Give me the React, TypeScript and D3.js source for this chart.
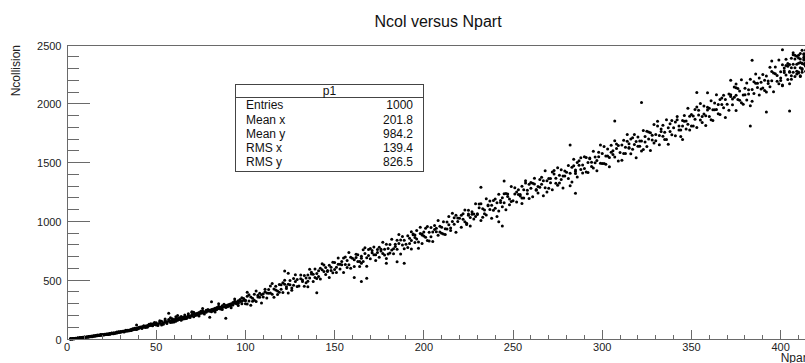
import React from "react";
import * as d3 from "d3";

const title = "Ncol versus Npart";
const xTitle = "Npart";
const yTitle = "Ncollision";
const xDomain: [number, number] = [0, 417];
const yDomain: [number, number] = [0, 2500];
const xMajorTicks = [0, 50, 100, 150, 200, 250, 300, 350, 400];
const xMinorStep = 10;
const yMajorTicks = [0, 500, 1000, 1500, 2000, 2500];
const yMinorStep = 100;
const statsName = "p1";
const statsLabels = ["Entries", "Mean x", "Mean y", "RMS x", "RMS y"];
const statsValues = ["1000", "201.8", "984.2", "139.4", "826.5"];

const peripheral: [number, number][] = [
  [2,1],[2,1],[2,2],[3,2],[3,3],[2,1],[4,3],[4,4],[3,2],[5,5],[5,6],[4,4],[6,7],[6,6],[5,4],[7,9],[7,8],[6,8],[8,10],[8,12],[7,10],[9,13],[9,11],[8,9],[10,16],[9,14],[10,13],[3,3],[4,2],[5,7],[6,5],[7,7],[8,11],[9,15],[2,2],[3,1],[4,5],[5,5],[6,9],[7,11],
  [10,15],[11,17],[11,15],[12,20],[12,18],[13,21],[13,19],[14,22],[14,25],[15,24],[15,27],[16,28],[16,25],[17,30],[17,27],[18,31],[18,34],[19,33],[19,36],[20,35],[11,18],[12,16],[13,23],[14,20],[15,26],[16,30],[17,33],[18,29],[19,31],[20,38],[12,22],[14,24],[16,27],[18,32],[19,38],
  [20,33],[21,37],[21,40],[22,38],[22,42],[23,41],[23,44],[24,43],[24,47],[25,45],[25,49],[26,47],[26,52],[27,50],[27,54],[28,52],[28,57],[29,55],[29,60],[30,58],[21,36],[22,40],[23,39],[24,45],[25,51],[26,50],[27,48],[28,55],[29,62],[30,63],[24,41],[26,44],[28,60],
  [30,60],[31,62],[31,66],[32,64],[32,69],[33,66],[33,72],[34,70],[34,74],[35,73],[35,77],[36,75],[36,82],[37,79],[37,84],[38,80],[38,87],[39,85],[39,91],[40,88],[32,60],[34,68],[36,72],[38,92],[39,80],[33,75],[35,70],[37,88],[40,98],[39,118],
  [40,92],[41,95],[41,101],[42,97],[42,104],[43,100],[43,108],[44,104],[44,111],[45,107],[45,115],[46,112],[46,119],[47,115],[47,124],[48,120],[48,128],[49,124],[49,133],[50,127],[42,90],[44,98],[46,125],[48,112],[49,140],[43,112],[45,100],[47,130],
  [50,120],[50,138],[51,128],[51,115],[52,133],[52,145],[53,130],[53,150],[54,138],[54,125],[55,142],[55,158],[56,147],[56,132],[57,150],[57,218],[57,165],[58,155],[58,140],[59,160],[59,172],[60,158],[60,145],[53,118],[55,170],[58,180],[59,142],[52,156],
  [60,165],[61,170],[61,150],[62,175],[62,160],[63,180],[63,165],[64,178],[64,192],[65,185],[65,170],[66,190],[66,205],[67,188],[67,175],[68,200],[68,215],[69,195],[69,182],[70,205],[70,225],[64,160],[66,172],[68,185],[61,190],[62,200],
  [70,198],[71,210],[71,190],[72,215],[72,200],[73,220],[73,205],[74,225],[74,210],[75,218],[75,235],[76,222],[76,240],[77,230],[77,212],[78,245],[78,228],[79,238],[79,250],[80,235],[74,195],[76,260],[70,232],[71,228],[80,185],
  [80,245],[81,250],[81,232],[82,255],[82,240],[83,262],[83,245],[84,268],[84,250],[85,260],[85,278],[86,270],[86,255],[87,282],[87,265],[88,275],[88,295],[89,285],[89,268],[90,290],[81,317],[83,230],[85,300],[87,250],[89,176],
  [90,275],[91,295],[91,280],[92,300],[92,285],[93,310],[93,290],[94,305],[94,322],[95,300],[95,315],[96,325],[96,305],[97,318],[97,335],[98,320],[98,300],[99,330],[99,345],[100,325],[92,265],[94,340],[96,285],[98,350],[100,300],
];

const midCentral: [number, number][] = [
  [100,330],[101,298],[101,364],[102,324],[103,358],[103,287],[104,346],[105,380],[105,330],[106,409],[106,318],[107,372],[108,354],[108,389],[109,306],[109,377],[102,376],[104,321],[107,358],[101,398],
  [110,358],[111,423],[112,391],[112,349],[113,421],[114,392],[114,451],[115,381],[116,425],[116,355],[117,448],[117,417],[118,409],[119,464],[119,398],[111,402],[113,390],[115,471],[118,378],[110,385],
  [120,462],[120,424],[121,395],[122,465],[122,499],[123,429],[124,465],[124,392],[125,497],[125,462],[126,434],[127,515],[127,458],[128,490],[128,547],[129,446],[129,507],[123,444],[126,415],[121,479],[122,578],[124,560],
  [130,450],[131,512],[131,544],[132,490],[133,540],[133,448],[134,518],[135,544],[135,492],[136,594],[136,518],[137,568],[138,490],[138,550],[139,524],[139,596],[132,502],[134,478],[137,552],[135,444],
  [140,558],[141,532],[142,602],[142,510],[143,588],[144,574],[144,630],[145,548],[145,608],[146,582],[147,524],[147,628],[148,610],[148,582],[149,652],[149,564],[141,580],[143,640],[146,574],[140,514],[140,394],
  [150,592],[150,650],[151,566],[152,635],[152,689],[153,595],[154,632],[154,659],[155,566],[155,688],[156,634],[157,667],[157,608],[158,735],[158,632],[159,696],[159,601],[153,636],[156,697],[151,611],
  [160,687],[161,616],[161,674],[162,720],[163,658],[163,716],[164,617],[165,704],[165,686],[166,758],[166,659],[167,727],[168,691],[168,619],[169,760],[169,710],[162,693],[164,658],[167,776],[165,645],[161,524],[168,516],[165,490],
  [170,683],[171,734],[172,783],[172,716],[173,667],[174,762],[174,735],[175,780],[175,695],[176,763],[177,822],[177,728],[178,764],[178,715],[179,805],[179,684],[171,752],[173,716],[176,749],[170,769],[179,644],
  [180,770],[180,722],[181,804],[182,848],[182,757],[183,724],[184,806],[184,787],[185,840],[185,764],[186,812],[187,722],[187,842],[188,799],[188,871],[189,767],[189,839],[183,768],[186,889],[181,732],[185,657],[189,645],
  [190,806],[191,879],[191,778],[192,856],[193,838],[193,766],[194,887],[195,821],[195,864],[196,923],[196,851],[197,824],[198,897],[198,950],[199,812],[199,884],[192,813],[194,892],[197,771],[195,884],[193,912],[199,893],
  [200,910],[201,866],[202,957],[202,837],[203,908],[204,949],[204,869],[205,910],[205,830],[206,966],[207,942],[207,912],[208,1008],[208,883],[209,959],[209,909],[201,941],[203,833],[206,931],[200,875],
  [210,900],[210,950],[211,997],[212,938],[212,888],[213,995],[214,971],[214,1041],[215,943],[215,923],[216,999],[217,1031],[217,976],[218,1052],[218,907],[219,1029],[219,999],[213,935],[216,1069],[211,892],
  [220,1026],[221,950],[221,1053],[222,1018],[223,1097],[223,998],[224,984],[225,1053],[225,1094],[226,1034],[226,961],[227,1081],[228,1062],[228,1021],[229,1151],[229,1042],[222,1065],[224,974],[227,1061],[225,1063],
  [230,1059],[231,1116],[232,1007],[232,1150],[233,1108],[234,1065],[234,1098],[235,1193],[235,1055],[236,1140],[237,1102],[237,1174],[238,1027],[238,1137],[239,1094],[239,1177],[231,1149],[233,1036],[236,1134],[230,1065],[232,1290],
  [240,1190],[240,1112],[241,1158],[242,1088],[242,1231],[243,1161],[244,1124],[244,1201],[245,1158],[245,1236],[246,1099],[247,1211],[247,1233],[248,1190],[248,1141],[249,1297],[249,1170],[243,1178],[246,1237],[241,1042],[245,1343],[242,997],[244,961],
];

const central: [number, number][] = [
  [250,1175],[251,1233],[251,1286],[252,1164],[253,1228],[253,1269],[254,1217],[255,1153],[255,1298],[256,1269],[256,1200],[257,1345],[258,1264],[258,1235],[259,1316],[259,1194],[252,1251],[254,1228],[257,1327],[255,1199],
  [260,1282],[261,1210],[262,1319],[262,1367],[263,1265],[264,1296],[264,1242],[265,1356],[265,1290],[266,1375],[267,1219],[267,1345],[268,1286],[268,1430],[269,1346],[269,1250],[261,1324],[263,1271],[266,1315],[260,1330],
  [270,1281],[270,1365],[271,1329],[272,1420],[272,1270],[273,1402],[274,1367],[274,1325],[275,1457],[275,1307],[276,1392],[277,1356],[277,1440],[278,1387],[278,1285],[279,1429],[279,1387],[273,1432],[276,1326],[271,1365],
  [280,1419],[281,1364],[281,1476],[282,1409],[283,1336],[283,1460],[284,1529],[285,1407],[285,1438],[286,1501],[286,1377],[287,1478],[288,1441],[288,1541],[289,1412],[289,1480],[282,1303],[284,1473],[287,1515],[285,1425],[282,1650],[285,1239],
  [290,1450],[291,1544],[292,1501],[292,1415],[293,1539],[294,1466],[294,1503],[295,1597],[295,1454],[296,1548],[297,1518],[297,1431],[298,1587],[298,1550],[299,1495],[299,1650],[291,1420],[293,1533],[296,1498],[290,1549],
  [300,1578],[300,1493],[301,1636],[302,1557],[302,1485],[303,1615],[304,1543],[304,1465],[305,1647],[305,1588],[306,1568],[307,1685],[307,1548],[308,1619],[308,1658],[309,1514],[309,1645],[303,1556],[306,1601],[301,1492],[307,1853],
  [310,1585],[311,1650],[311,1520],[312,1689],[313,1630],[313,1577],[314,1740],[315,1622],[315,1661],[316,1576],[316,1700],[317,1614],[318,1653],[318,1738],[319,1542],[319,1679],[312,1578],[314,1681],[317,1712],[315,1628],
  [320,1717],[321,1638],[322,1684],[322,1599],[323,1774],[324,1676],[324,1722],[325,1636],[325,1767],[326,1701],[327,1603],[327,1753],[328,1693],[328,1733],[329,1823],[329,1667],[321,1684],[323,1611],[326,1760],[320,1639],[322,2010],
  [330,1685],[330,1738],[331,1812],[332,1731],[332,1651],[333,1785],[334,1818],[334,1724],[335,1758],[335,1697],[336,1864],[337,1797],[337,1657],[338,1831],[338,1764],[339,1857],[339,1737],[333,1765],[336,1697],[331,1852],
  [340,1797],[341,1729],[341,1845],[342,1892],[343,1777],[343,1811],[344,1723],[345,1859],[345,1811],[346,1900],[346,1852],[347,1785],[348,1962],[348,1826],[349,1778],[349,1894],[342,1865],[344,1777],[347,1853],[345,1696],
];

const mostCentral: [number, number][] = [
  [350,1811],[351,1896],[352,1868],[352,1952],[353,1798],[354,1946],[354,1904],[355,1862],[355,2002],[356,1842],[357,1913],[357,1982],[358,1899],[358,1815],[359,1970],[359,1948],[351,1811],[353,1973],[356,1891],[350,1909],[353,2097],[359,2095],
  [360,1963],[360,1893],[361,2026],[362,1950],[362,1859],[363,2006],[364,1951],[364,2077],[365,1916],[365,1993],[366,1910],[367,2050],[367,1994],[368,1967],[368,2072],[369,1883],[369,2037],[363,1950],[366,2036],[361,1865],
  [370,1996],[371,2083],[371,1946],[372,2062],[373,2041],[373,1991],[374,2143],[375,1942],[375,2072],[376,2036],[376,2130],[377,2109],[378,2009],[378,2204],[379,2075],[379,1996],[372,2076],[374,2056],[377,2030],[375,2136],[372,2200],[375,2168],
  [380,2133],[381,2033],[382,2120],[382,2084],[383,2208],[384,2021],[384,2122],[385,2188],[385,2087],[386,2253],[387,2139],[387,2175],[388,2075],[388,2219],[389,2126],[389,2184],[381,2177],[383,1984],[386,2174],[380,2076],[383,1811],[384,2370],
  [390,2134],[390,2249],[391,2200],[392,2100],[392,2236],[393,2194],[394,2144],[394,2310],[395,2196],[395,2275],[396,2103],[397,2255],[397,2312],[398,2191],[398,2241],[399,2170],[399,2372],[393,2172],[396,2261],[391,2113],[392,1930],[395,2364],
  [400,2272],[400,2198],[401,2333],[401,2160],[402,2304],[402,2266],[403,2244],[403,2379],[404,2207],[404,2342],[405,2275],[405,2335],[405,2170],[406,2388],[406,2306],[406,2238],[407,2434],[407,2268],[407,2336],[408,2232],[408,2382],[408,2306],[409,2337],[409,2277],[409,2404],[401,2153],[403,2326],[405,2268],[407,2418],[409,2254],[402,2280],[404,2320],[406,2208],[408,2412],[400,2220],[401,2460],[405,1939],
  [410,2345],[410,2262],[410,2412],[411,2307],[411,2382],[411,2239],[412,2344],[412,2456],[412,2292],[413,2419],[413,2336],[413,2381],[414,2276],[414,2456],[414,2320],[415,2417],[415,2245],[415,2373],[416,2447],[416,2350],[416,2410],[410,2270],[411,2427],[412,2269],[413,2373],[414,2350],[415,2490],[416,2327],[410,2390],[411,2232],[412,2344],[413,2396],[414,2328],[415,2470],[416,2282],[411,2352],[412,2300],[413,2426],[414,2343],[415,2395],
];

const FONT = "'Liberation Sans', Arial, Helvetica, sans-serif";

export default function App() {
  const W = 805;
  const H = 363;
  const x = d3.scaleLinear().domain(xDomain).range([67, 811]);
  const y = d3.scaleLinear().domain(yDomain).range([339, 45]);
  const xMinor = d3.range(0, xDomain[1] + 0.001, xMinorStep).filter((v) => !xMajorTicks.includes(v));
  const yMinor = d3.range(0, yDomain[1], yMinorStep).filter((v) => !yMajorTicks.includes(v));
  const points = [...peripheral, ...midCentral, ...central, ...mostCentral];
  const axisColor = "#6a6a6a";
  const x0 = x(0);
  const y0 = y(0);
  const yTop = y(yDomain[1]);
  const boxX = 235.5, boxY = 84.5, boxW = 188, boxH = 87;
  const rowStep = 14.2;

  return (
    <svg
      width={W}
      height={H}
      style={{ position: "absolute", left: 0, top: 0, display: "block", background: "#fff" }}
      fontFamily={FONT}
    >
      <rect x={0} y={0} width={W} height={H} fill="#fff" />
      <text x={438} y={26.5} textAnchor="middle" fontSize={16} fill="#111">{title}</text>

      <g>
        {points.map((p, i) => (
          <circle key={i} cx={x(p[0])} cy={y(p[1])} r={1.5} fill="#000" />
        ))}
      </g>

      <g shapeRendering="crispEdges" stroke={axisColor} strokeWidth={1} fill="none">
        <line x1={x0} y1={yTop} x2={W} y2={yTop} />
        <line x1={x0} y1={yTop} x2={x0} y2={y0} />
        <line x1={x0} y1={y0} x2={W} y2={y0} />
        {yMajorTicks.map((t) => (
          <line key={"ym" + t} x1={x0} x2={x0 + 23} y1={y(t)} y2={y(t)} />
        ))}
        {yMinor.map((t) => (
          <line key={"yn" + t} x1={x0} x2={x0 + 11.5} y1={y(t)} y2={y(t)} />
        ))}
        {xMajorTicks.map((t) => (
          <line key={"xm" + t} x1={x(t)} x2={x(t)} y1={y0} y2={y0 - 9} />
        ))}
        {xMinor.map((t) => (
          <line key={"xn" + t} x1={x(t)} x2={x(t)} y1={y0} y2={y0 - 4.5} />
        ))}
      </g>

      <g fontSize={11} fill="#222">
        {yMajorTicks.map((t) => (
          <text key={"yl" + t} x={61.5} y={y(t) + 4.5} textAnchor="end">{t}</text>
        ))}
        {xMajorTicks.map((t) => (
          <text key={"xl" + t} x={x(t)} y={351} textAnchor="middle">{t}</text>
        ))}
      </g>

      <text x={810} y={362} textAnchor="end" fontSize={12} fill="#222">{xTitle}</text>
      <text transform="translate(19.5,45) rotate(-90)" textAnchor="end" fontSize={12} fill="#222">{yTitle}</text>

      <g>
        <rect x={boxX} y={boxY} width={boxW} height={boxH} fill="#fff" stroke="#444" strokeWidth={1} shapeRendering="crispEdges" />
        <line x1={boxX} x2={boxX + boxW} y1={97.5} y2={97.5} stroke="#444" strokeWidth={1} shapeRendering="crispEdges" />
        <text x={boxX + boxW / 2} y={95} textAnchor="middle" fontSize={12} fill="#111">{statsName}</text>
        {statsLabels.map((lab, i) => (
          <g key={lab} fontSize={12} fill="#111">
            <text x={246} y={109.3 + i * rowStep}>{lab}</text>
            <text x={413} y={109.3 + i * rowStep} textAnchor="end">{statsValues[i]}</text>
          </g>
        ))}
      </g>
    </svg>
  );
}
